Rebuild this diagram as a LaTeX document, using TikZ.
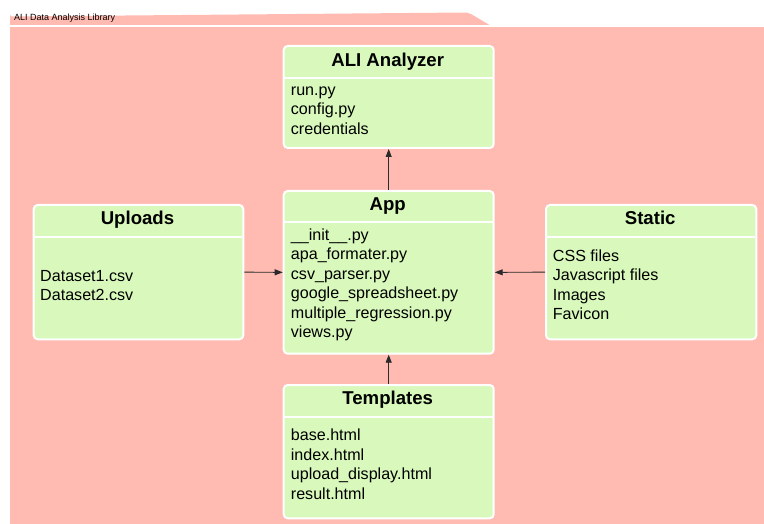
\documentclass[tikz,border=0pt]{standalone}
\usepackage{fontspec}
\setmainfont{Liberation Sans}
\usetikzlibrary{arrows.meta}
\definecolor{pkgpink}{HTML}{FFBBB2}
\definecolor{boxgreen}{HTML}{D8F9BB}
\definecolor{wire}{HTML}{2A2A2A}
\tikzset{
  classbox/.style={draw=white, line width=2pt, fill=boxgreen, rounded corners=4pt},
  divider/.style={draw=white, line width=2pt},
  boxtitle/.style={anchor=base, inner sep=0pt, font=\fontsize{18.6}{22}\selectfont\bfseries},
  entry/.style={anchor=base west, inner sep=0pt, font=\fontsize{16.1}{19.5}\selectfont},
  link/.style={draw=wire, line width=0.9pt, -{Triangle[length=8pt,width=6pt]}},
}
\begin{document}
\begin{tikzpicture}[x=1pt, y=-1pt]
\useasboundingbox (0,0) rectangle (764,524);
\fill[white] (0,0) rectangle (764,524);

% package tab and body
\fill[pkgpink] (10,25) -- (10,14.5) arc[start angle=180, end angle=90, radius=2] -- (466,12.5)
  .. controls (469,12.5) .. (471,14) -- (489.5,25) -- cycle;
\node[anchor=base west, inner sep=0pt, font=\fontsize{9}{10}\selectfont] (pkglabel) at (14,20.8) {ALI Data Analysis Library};
\fill[pkgpink] (10,27.3) rectangle (770,530);

% ALI Analyzer
\node[classbox, anchor=north west, minimum width=210pt, minimum height=102pt] (ana) at (282.7,45) {};
\draw[divider] (282.7,77.7) -- (492.7,77.7);
\node[boxtitle] (anaT) at (387.7,66.3) {ALI Analyzer};
\foreach \t [count=\i] in {run.py, config.py, credentials}
  \node[entry] (ana\i) at (290.7,95.5+19.5*\i-19.5) {\t};

% App
\node[classbox, anchor=north west, minimum width=210pt, minimum height=162.7pt] (app) at (282.7,190) {};
\draw[divider] (282.7,222.3) -- (492.7,222.3);
\node[boxtitle] (appT) at (387.7,210.8) {App};
\foreach \t [count=\i] in {\_\_init\_\_.py, apa\_formater.py, csv\_parser.py, google\_spreadsheet.py, multiple\_regression.py, views.py}
  \node[entry] (app\i) at (290.7,240.3+19.5*\i-19.5) {\t};

% Uploads
\node[classbox, anchor=north west, minimum width=209.6pt, minimum height=134.3pt] (upl) at (32.7,204) {};
\draw[divider] (32.7,236.7) -- (242.3,236.7);
\node[boxtitle] (uplT) at (137.5,224.6) {Uploads};
\foreach \t [count=\i] in {Dataset1.csv, Dataset2.csv}
  \node[entry] (upl\i) at (40,281.3+19.5*\i-19.5) {\t};

% Static
\node[classbox, anchor=north west, minimum width=210.3pt, minimum height=134.3pt] (sta) at (545,204) {};
\draw[divider] (545,236.7) -- (755.3,236.7);
\node[boxtitle] (staT) at (650.2,224.6) {Static};
\foreach \t [count=\i] in {CSS files, Javascript files, Images, Favicon}
  \node[entry] (sta\i) at (552.7,261.3+19.5*\i-19.5) {\t};

% Templates
\node[classbox, anchor=north west, minimum width=210pt, minimum height=133.3pt] (tpl) at (282.7,384) {};
\draw[divider] (282.7,416.7) -- (492.7,416.7);
\node[boxtitle] (tplT) at (387.7,404.3) {Templates};
\foreach \t [count=\i] in {base.html, index.html, upload\_display.html, result.html}
  \node[entry] (tpl\i) at (290.7,440.8+19.5*\i-19.5) {\t};

% dependencies
\draw[link] (app.north) -- (ana.south);
\draw[link] (tpl.north) -- (app.south);
\draw[link] (upl.east) -- (app.west);
\draw[link] (sta.west) -- (app.east);
\end{tikzpicture}
\end{document}
